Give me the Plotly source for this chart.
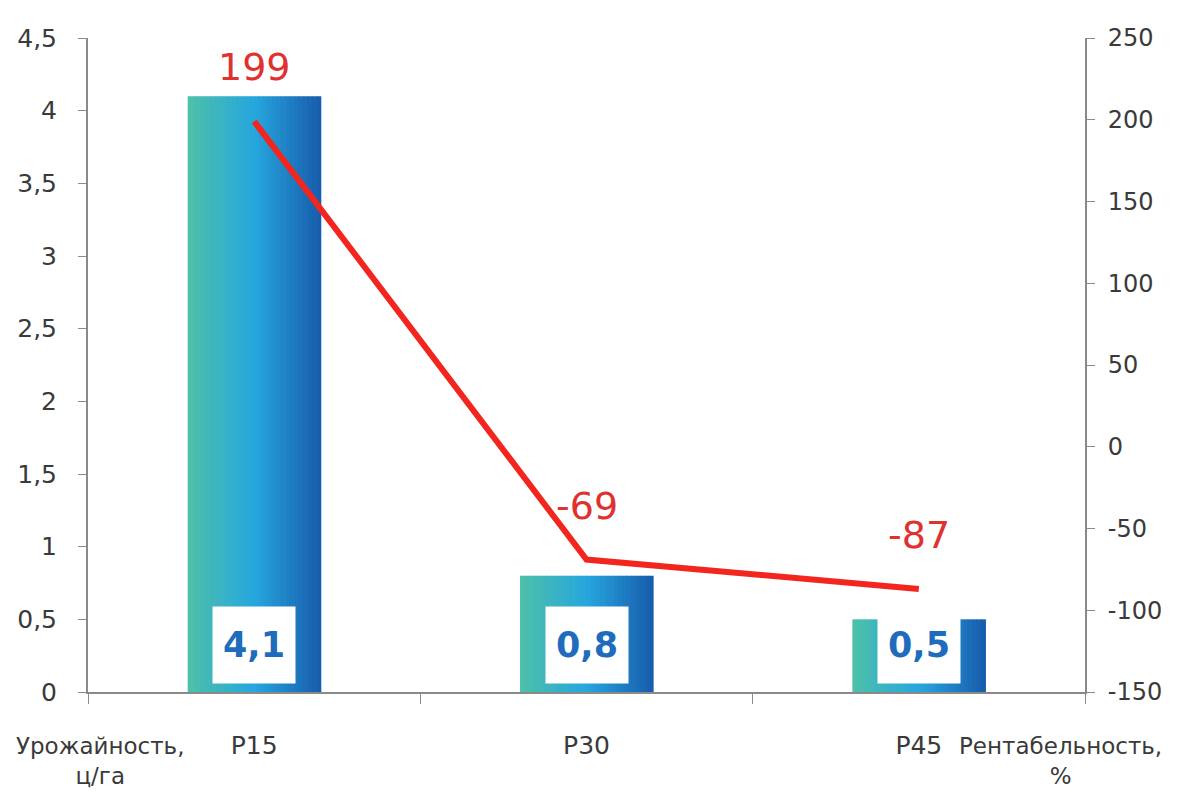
import plotly.graph_objects as go

categories = ["P15", "P30", "P45"]
yield_values = [4.1, 0.8, 0.5]
profit_values = [199, -69, -87]
left_ticks = [0, 0.5, 1, 1.5, 2, 2.5, 3, 3.5, 4, 4.5]
right_ticks = [-150, -100, -50, 0, 50, 100, 150, 200, 250]
right_tick_labels = ["-150", "-100", "-50", "0", "50", "100", "150", "200", "250"]
left_title = "Урожайность,<br>ц/га"
right_title = "Рентабельность,<br>%"

grad_stops = [(0.0, (78, 192, 168)), (0.5, (38, 166, 222)), (1.0, (24, 92, 172))]

def grad_color(t):
    for (t0, c0), (t1, c1) in zip(grad_stops[:-1], grad_stops[1:]):
        if t0 <= t <= t1:
            f = (t - t0) / (t1 - t0)
            c = [round(a + (b - a) * f) for a, b in zip(c0, c1)]
            return f"rgb({c[0]},{c[1]},{c[2]})"
    return "rgb(24,92,172)"

fig = go.Figure()
N = 30
bar_w = 0.4
sw = bar_w / N
for i in range(N):
    fig.add_trace(go.Bar(
        x=categories, y=yield_values,
        width=sw * 1.15, offset=-bar_w / 2 + i * sw,
        marker=dict(color=grad_color((i + 0.5) / N), line=dict(width=0)),
        showlegend=False, hoverinfo="skip", yaxis="y",
    ))

fig.add_trace(go.Scatter(
    x=categories, y=profit_values, yaxis="y2", mode="lines",
    line=dict(color="#f2261e", width=6), showlegend=False,
))

annotations = []
for c, v in zip(categories, yield_values):
    annotations.append(dict(
        x=c, y=0, xref="x", yref="y", yanchor="bottom", yshift=8,
        text=f"{v:.1f}".replace(".", ","), showarrow=False,
        bgcolor="white", width=80, height=74,
        font=dict(family="DejaVu Sans", size=35, color="#1f6cbc", weight="bold"),
    ))
for c, v in zip(categories, profit_values):
    annotations.append(dict(
        x=c, y=v, xref="x", yref="y2", yanchor="bottom", yshift=30,
        text=str(v), showarrow=False,
        font=dict(family="DejaVu Sans", size=38, color="#e0312f"),
    ))
annotations.append(dict(
    x=0.012, y=-0.06, xref="paper", yref="paper", xanchor="center", yanchor="top",
    text=left_title, showarrow=False, align="center",
    font=dict(family="DejaVu Sans", size=23, color="#3a3a3a"),
))
annotations.append(dict(
    x=0.975, y=-0.06, xref="paper", yref="paper", xanchor="center", yanchor="top",
    text=right_title, showarrow=False, align="center",
    font=dict(family="DejaVu Sans", size=23, color="#3a3a3a"),
))

tick_font = dict(family="DejaVu Sans", size=25, color="#3a3a3a")
right_tick_font = dict(family="DejaVu Sans", size=24, color="#3a3a3a")
fig.update_layout(
    width=1169, height=790,
    margin=dict(l=80, r=92, t=30, b=106, autoexpand=False),
    paper_bgcolor="white", plot_bgcolor="white",
    barmode="overlay", separators=", ",
    font=tick_font,
    xaxis=dict(
        type="category", showgrid=False, showline=True, linecolor="#8a8a8a", linewidth=2,
        ticks="outside", tickson="boundaries", ticklen=10, tickcolor="#8a8a8a", tickwidth=1,
        tickfont=tick_font, ticklabelstandoff=30, range=[-0.5, 2.5], automargin=False,
    ),
    yaxis=dict(
        range=[0, 4.5], tickvals=left_ticks, showgrid=False, zeroline=False,
        showline=True, linecolor="#8a8a8a", linewidth=2,
        ticks="outside", ticklen=8, tickcolor="#8a8a8a", tickfont=tick_font,
        ticklabelstandoff=16, automargin=False,
    ),
    yaxis2=dict(
        range=[-150, 250], tickvals=right_ticks, ticktext=right_tick_labels,
        overlaying="y", side="right", showgrid=False, zeroline=False,
        showline=True, linecolor="#8a8a8a", linewidth=2,
        ticks="outside", ticklen=8, tickcolor="#8a8a8a", tickfont=right_tick_font,
        ticklabelstandoff=8, automargin=False,
    ),
    annotations=annotations,
)

fig.write_html("out.html")
